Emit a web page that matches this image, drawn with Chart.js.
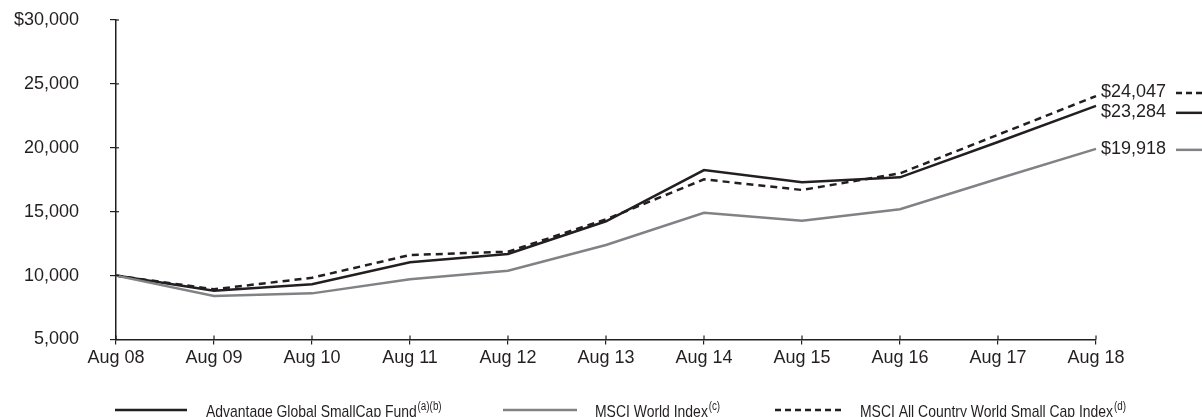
<!DOCTYPE html>
<html>
<head>
<meta charset="utf-8">
<script src="https://cdn.jsdelivr.net/npm/chart.js@4/dist/chart.umd.min.js"></script>
<style>
  html, body { margin: 0; padding: 0; background: #fff; }
  #wrap { position: relative; width: 1202px; height: 417px; }
</style>
</head>
<body>
<div id="wrap"><canvas id="growthChart"></canvas></div>
<script>
// Data
const years = ['Aug 08', 'Aug 09', 'Aug 10', 'Aug 11', 'Aug 12', 'Aug 13', 'Aug 14', 'Aug 15', 'Aug 16', 'Aug 17', 'Aug 18'];
const fundValues = [10000, 8820, 9320, 11040, 11690, 14250, 18260, 17300, 17690, 20450, 23284];
const msciWorldValues = [10000, 8400, 8610, 9710, 10380, 12390, 14920, 14300, 15190, 17580, 19918];
const acwiSmallCapValues = [10000, 8930, 9830, 11610, 11870, 14400, 17530, 16700, 18000, 21020, 24047];
const yTicks = [5000, 10000, 15000, 20000, 25000, 30000];
const seriesNames = ['Advantage Global SmallCap Fund', 'MSCI World Index', 'MSCI All Country World Small Cap Index'];
const seriesNotes = ['(a)(b)', '(c)', '(d)'];

const INK = '#231f20';
const GREY = '#808285';
const FONT = '"Liberation Sans", Arial, sans-serif';

function money(v) {
    return '$' + v.toLocaleString('en-US');
}

// end labels, inward tick marks and the legend row
const extrasPlugin = {
    id: 'extras',
    afterDraw(chart) {
        const ctx = chart.ctx;
        const xs = chart.scales.x;
        const ys = chart.scales.y;
        const area = chart.chartArea;
        ctx.save();

        // small tick stubs inside the plot
        ctx.strokeStyle = INK;
        ctx.lineWidth = 1.2;
        yTicks.forEach(t => {
            const y = ys.getPixelForValue(t);
            ctx.beginPath();
            ctx.moveTo(area.left, y);
            ctx.lineTo(area.left + 3, y);
            ctx.stroke();
        });
        years.forEach((_, i) => {
            const x = xs.getPixelForValue(i);
            ctx.beginPath();
            ctx.moveTo(x, area.bottom);
            ctx.lineTo(x, area.bottom - 4);
            ctx.stroke();
        });

        // ending values at the right
        const last = years.length - 1;
        const ends = [
            { v: acwiSmallCapValues[last], color: INK, dash: [6, 4], nudge: -4 },
            { v: fundValues[last], color: INK, dash: [], nudge: 6 },
            { v: msciWorldValues[last], color: GREY, dash: [], nudge: 0 }
        ];
        ctx.font = '18px ' + FONT;
        ctx.textBaseline = 'middle';
        ctx.textAlign = 'left';
        ends.forEach(e => {
            const y = ys.getPixelForValue(e.v) + e.nudge;
            ctx.fillStyle = INK;
            ctx.fillText(money(e.v), area.right + 5, y);
            ctx.strokeStyle = e.color;
            ctx.lineWidth = 2.5;
            ctx.setLineDash(e.dash);
            ctx.beginPath();
            ctx.moveTo(1176, y + 1);
            ctx.lineTo(1202, y + 1);
            ctx.stroke();
            ctx.setLineDash([]);
        });

        // legend row (condensed type, squeezed horizontally)
        const legend = [
            { x1: 115, x2: 187, tx: 206, color: INK, dash: [] },
            { x1: 503, x2: 577, tx: 595, color: GREY, dash: [] },
            { x1: 775, x2: 842, tx: 860, color: INK, dash: [6, 4] }
        ];
        const ly = 410;
        const squeeze = 0.82;
        legend.forEach((l, i) => {
            ctx.strokeStyle = l.color;
            ctx.lineWidth = 2.5;
            ctx.setLineDash(l.dash);
            ctx.beginPath();
            ctx.moveTo(l.x1, ly);
            ctx.lineTo(l.x2, ly);
            ctx.stroke();
            ctx.setLineDash([]);

            ctx.save();
            ctx.translate(l.tx, 0);
            ctx.scale(squeeze, 1);
            ctx.fillStyle = INK;
            ctx.textBaseline = 'alphabetic';
            ctx.font = '17px ' + FONT;
            ctx.fillText(seriesNames[i], 0, 417);
            const w = ctx.measureText(seriesNames[i]).width;
            ctx.font = '12px ' + FONT;
            ctx.fillText(seriesNotes[i], w + 1, 410);
            ctx.restore();
        });
        ctx.restore();
    }
};

const ctx = document.getElementById('growthChart');
new Chart(ctx.getContext('2d'), {
    type: 'line',
    data: {
        labels: years,
        datasets: [
            {
                label: seriesNames[1],
                data: msciWorldValues,
                borderColor: GREY,
                borderWidth: 2.5,
                pointRadius: 0,
                tension: 0
            },
            {
                label: seriesNames[2],
                data: acwiSmallCapValues,
                borderColor: INK,
                borderWidth: 2.5,
                borderDash: [7, 5],
                pointRadius: 0,
                tension: 0
            },
            {
                label: seriesNames[0],
                data: fundValues,
                borderColor: INK,
                borderWidth: 2.5,
                pointRadius: 0,
                tension: 0
            }
        ]
    },
    options: {
        responsive: true,
        maintainAspectRatio: false,
        animation: false,
        devicePixelRatio: 1,
        layout: { padding: { top: 20, right: 106, bottom: 0, left: 0 } },
        plugins: {
            legend: { display: false },
            tooltip: { enabled: false }
        },
        scales: {
            x: {
                type: 'category',
                offset: false,
                grid: { display: true, drawOnChartArea: false, tickLength: 5, color: INK, lineWidth: 1.2 },
                border: { display: true, color: INK, width: 1.5 },
                ticks: {
                    color: INK,
                    font: { family: FONT, size: 18 },
                    padding: 3,
                    maxRotation: 0,
                    autoSkip: false
                },
                afterFit(scale) {
                    scale.height = 77.5;
                    scale.paddingLeft = 0;
                    scale.paddingRight = 0;
                }
            },
            y: {
                min: 5000,
                max: 30000,
                afterBuildTicks(scale) { scale.ticks = yTicks.map(v => ({ value: v })); },
                grid: { display: true, drawOnChartArea: false, tickLength: 6, color: INK, lineWidth: 1.2 },
                border: { display: true, color: INK, width: 1.5 },
                ticks: {
                    color: INK,
                    font: { family: FONT, size: 18 },
                    padding: 31,
                    callback(v) {
                        return v === 30000 ? money(v) : v.toLocaleString('en-US');
                    }
                },
                afterFit(scale) {
                    scale.width = 116;
                    scale.paddingTop = 0;
                    scale.paddingBottom = 0;
                }
            }
        }
    },
    plugins: [extrasPlugin]
});
</script>
</body>
</html>
